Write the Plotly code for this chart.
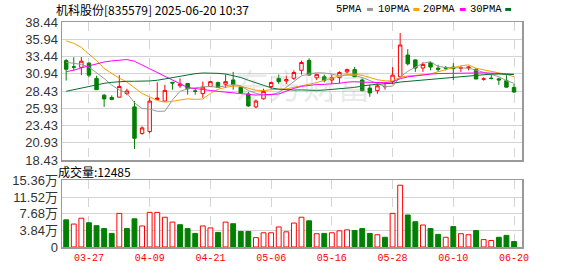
import plotly.graph_objects as go

dates = ["03-24","03-25","03-26","03-27","03-28","03-31","04-01","04-02","04-03","04-07",
         "04-08","04-09","04-10","04-11","04-14","04-15","04-16","04-17","04-18","04-21",
         "04-22","04-23","04-24","04-25","04-28","04-29","04-30","05-06","05-07","05-08",
         "05-09","05-12","05-13","05-14","05-15","05-16","05-19","05-20","05-21","05-22",
         "05-23","05-26","05-27","05-28","05-29","05-30","06-03","06-04","06-05","06-06",
         "06-09","06-10","06-11","06-12","06-13","06-16","06-17","06-18","06-19","06-20"]

opens = [32.85,31.95,31.87,32.48,30.27,27.83,27.50,27.55,28.06,26.14,
         22.29,22.57,27.22,26.98,29.70,29.20,29.52,28.45,28.06,29.10,
         29.66,29.43,30.04,29.00,28.02,26.14,27.31,29.10,30.27,29.90,
         30.27,31.44,32.85,30.35,30.50,30.04,30.37,31.21,31.54,30.04,
         28.86,28.49,29.05,29.80,30.50,33.65,32.95,31.77,32.52,31.75,
         31.85,31.90,31.75,31.80,31.59,30.15,30.30,30.20,29.94,28.96]
closes = [31.59,31.90,32.76,30.74,28.63,27.30,27.22,29.10,28.44,21.59,
          23.09,26.98,27.41,28.53,29.60,29.45,28.77,28.40,29.00,29.80,
          28.96,29.80,29.33,28.16,26.28,26.98,28.39,29.66,29.80,30.10,
          31.12,32.57,30.75,30.85,29.94,30.37,31.12,31.54,30.50,28.49,
          28.16,29.19,29.10,30.74,35.11,32.38,31.77,32.29,31.91,31.60,
          31.75,31.68,31.80,31.90,30.18,30.20,30.25,30.05,29.00,28.30]
highs = [33.09,33.33,33.37,32.60,30.65,28.02,27.80,30.74,28.77,26.99,
         23.32,27.45,29.71,29.33,29.75,30.27,29.55,28.86,29.80,29.90,
         29.80,30.83,31.21,29.10,28.30,27.22,28.77,29.80,30.83,30.65,
         31.44,32.85,33.18,30.95,30.83,30.83,31.30,31.68,31.91,30.27,
         29.33,29.57,29.57,31.91,36.84,34.50,33.00,32.62,32.70,32.25,
         32.05,32.48,32.05,32.05,31.77,30.41,30.83,30.37,30.74,29.47]
lows = [29.95,31.44,30.74,30.45,28.60,26.14,27.10,27.50,27.83,20.03,
        22.10,22.30,27.20,26.95,28.63,28.90,27.92,27.92,27.45,29.00,
        28.90,28.86,28.63,28.06,26.14,25.95,27.20,28.63,29.47,29.47,
        30.04,30.83,30.70,30.04,29.71,29.47,29.57,30.97,30.50,28.40,
        27.60,28.02,28.63,29.43,30.36,32.15,31.21,31.21,31.44,31.21,
        31.44,30.04,31.21,31.44,30.18,29.94,30.13,29.33,28.95,28.16]

ma5 = [32.60,32.50,32.30,31.90,31.12,30.26,29.30,28.60,28.15,26.72,
       25.90,25.82,25.50,25.52,27.14,28.40,28.75,28.95,29.04,29.08,
       28.99,29.19,29.38,29.21,28.51,28.11,27.83,27.89,28.22,28.99,
       29.81,30.65,30.87,31.08,31.05,30.90,30.61,30.76,30.69,30.40,
       29.96,29.58,29.09,29.14,30.46,31.30,31.82,32.46,32.69,31.99,
       31.86,31.85,31.75,31.75,31.46,31.15,30.87,30.52,29.94,29.56]
ma10 = [35.70,35.35,34.75,33.80,32.85,31.70,30.95,30.30,29.75,28.93,
        28.08,27.59,27.06,26.83,26.93,27.15,27.30,27.23,27.28,28.10,
        28.69,28.97,29.16,29.13,28.80,28.55,28.51,28.64,28.72,28.75,
        28.96,29.24,29.38,29.65,30.00,30.34,30.62,30.80,30.87,30.71,
        30.42,30.08,29.91,29.92,30.43,30.63,30.70,30.77,30.91,31.23,
        31.58,31.83,32.10,32.22,31.73,31.51,31.36,31.13,30.84,30.51]
ma20 = [31.25,31.45,31.80,32.10,32.40,32.65,32.80,32.95,33.00,32.75,
        32.20,31.75,31.20,30.60,30.00,29.50,28.95,28.80,28.70,28.52,
        28.39,28.28,28.11,27.98,27.86,27.85,27.90,27.93,28.00,28.42,
        28.83,29.11,29.28,29.38,29.40,29.45,29.56,29.72,29.80,29.73,
        29.69,29.66,29.65,29.78,30.22,30.49,30.66,30.79,30.89,30.97,
        31.00,30.96,31.00,31.07,31.08,31.07,31.03,30.95,30.88,30.87]
ma30 = [28.40,28.65,28.85,29.10,29.35,29.55,29.70,29.80,29.85,29.85,
        29.85,29.90,30.00,30.20,30.40,30.60,30.80,30.95,31.05,31.05,
        31.00,30.90,30.70,30.40,30.00,29.60,29.20,28.90,28.70,28.59,
        28.58,28.60,28.54,28.53,28.58,28.68,28.81,28.89,28.96,29.19,
        29.36,29.43,29.49,29.56,29.74,29.84,29.94,30.07,30.17,30.23,
        30.32,30.38,30.47,30.59,30.72,30.83,30.89,30.90,30.88,30.82]

vols = [6.26,5.29,6.64,5.59,4.92,4.25,3.13,7.75,4.25,6.49,
        4.85,7.98,7.98,6.86,5.74,5.14,4.25,3.13,4.85,4.40,
        3.36,5.74,5.37,3.58,3.58,2.16,3.28,3.28,4.62,3.50,
        5.52,6.86,6.04,3.06,3.13,3.28,3.73,3.95,3.80,4.25,
        3.13,2.83,2.24,7.75,14.24,7.38,5.82,5.07,4.25,2.91,
        2.24,4.70,3.06,2.83,3.80,1.71,1.49,2.24,2.68,1.2485]

price_ticks = [18.43, 20.93, 23.43, 25.93, 28.43, 30.94, 33.44, 35.94, 38.44]
price_labels = ["18.43", "20.93", "23.43", "25.93", "28.43", "30.94", "33.44", "35.94", "38.44"]
vol_ticks = [0, 3.84, 7.68, 11.52, 15.36]
vol_labels = ["0", "3.84万", "7.68万", "11.52万", "15.36万"]
date_ticks = ["03-27", "04-09", "04-21", "05-06", "05-16", "05-28", "06-10", "06-20"]
title_text = "机科股份[835579] 2025-06-20 10:37"
vol_title = "成交量:12485"

RED = "#ff0000"
GREEN = "#008000"
MA_COLORS = ["#999999", "#f5a000", "#ff00ff", "#006f2e"]
GRID = "#d4d4d4"
BORDER = "#999999"

# volume colour: up vs previous close
vol_up = []
for i in range(len(closes)):
    ref = closes[i - 1] if i > 0 else opens[i]
    vol_up.append(closes[i] >= ref)

fig = go.Figure()

for name, vals, col in [("5PMA", ma5, MA_COLORS[0]), ("10PMA", ma10, MA_COLORS[1]),
                        ("20PMA", ma20, MA_COLORS[2]), ("30PMA", ma30, MA_COLORS[3])]:
    fig.add_trace(go.Scatter(x=dates, y=vals, mode="lines", name=name,
                             line=dict(color=col, width=1), hoverinfo="skip",
                             xaxis="x", yaxis="y"))

fig.add_trace(go.Candlestick(
    x=dates, open=opens, high=highs, low=lows, close=closes,
    increasing=dict(line=dict(color=RED, width=1), fillcolor="#ffffff"),
    decreasing=dict(line=dict(color=GREEN, width=1), fillcolor=GREEN),
    whiskerwidth=0, hoverinfo="skip", xaxis="x", yaxis="y", name="K"))

fig.add_trace(go.Bar(
    x=dates, y=vols, width=0.64,
    marker=dict(color=["#ffffff" if u else GREEN for u in vol_up],
                line=dict(color=[RED if u else GREEN for u in vol_up], width=1)),
    hoverinfo="skip", xaxis="x2", yaxis="y2", name="vol"))

L, R, T, B = 56, 56, 22, 21
W, H = 578, 276
PW, PH = W - L - R, H - T - B
price_bottom = (255 - 165) / PH
vol_top = (255 - 186) / PH

axis_common = dict(showline=True, mirror=True, linecolor=BORDER, linewidth=1.5,
                   zeroline=False, fixedrange=True)

def px_x(px):
    return (px - L) / PW

def px_y(py):
    return (H - B - py) / PH

annotations = [
    dict(text=title_text, x=px_x(48), y=px_y(9.5), xref="paper", yref="paper",
         xanchor="left", yanchor="middle", showarrow=False,
         font=dict(family="Noto Sans CJK SC", size=12, color="#000")),
    dict(text=vol_title, x=px_x(50), y=px_y(176.7), xref="paper", yref="paper",
         xanchor="left", yanchor="middle", showarrow=False,
         font=dict(family="Noto Sans CJK SC", size=12, color="#000")),
    dict(text="东方财富", x=px_x(300), y=px_y(87), xref="paper", yref="paper",
         xanchor="center", yanchor="middle", showarrow=False,
         font=dict(family="Noto Sans CJK SC", size=34, color="rgba(160,160,160,0.22)")),
]
shapes = []
legend_items = [("5PMA", 338, 365), ("10PMA", 380, 412), ("20PMA", 426, 459), ("30PMA", 473, 505)]
for (lab, tx, dx), col in zip(legend_items, MA_COLORS):
    annotations.append(dict(text=lab, x=px_x(tx - 6), y=px_y(8.5), xref="paper", yref="paper",
                            xanchor="left", yanchor="middle", showarrow=False,
                            font=dict(family="Liberation Mono", size=10.5, color="#000")))
    shapes.append(dict(type="line", xref="paper", yref="paper",
                       x0=px_x(dx), x1=px_x(dx + 6), y0=px_y(9), y1=px_y(9),
                       line=dict(color=col, width=3)))

fig.update_layout(
    width=W, height=H, margin=dict(l=L, r=R, t=T, b=B),
    paper_bgcolor="#ffffff", plot_bgcolor="#ffffff",
    showlegend=False, boxgap=0.35, bargap=0.3,
    xaxis=dict(type="category", domain=[0, 1], anchor="y", range=[-0.55, 60.05],
               tickvals=date_ticks, showticklabels=False, showgrid=True,
               gridcolor=GRID, griddash="dash", gridwidth=1, ticks="",
               rangeslider=dict(visible=False), **axis_common),
    xaxis2=dict(type="category", domain=[0, 1], anchor="y2", matches="x",
                range=[-0.55, 60.05], tickvals=date_ticks, ticktext=date_ticks,
                showgrid=True, gridcolor=GRID, griddash="dash", gridwidth=1, ticks="",
                tickfont=dict(family="Liberation Mono", size=10, color=RED),
                **axis_common),
    yaxis=dict(domain=[price_bottom, 1], anchor="x", range=[18.43, 38.44],
               tickvals=price_ticks, ticktext=price_labels, showgrid=True,
               gridcolor=GRID, gridwidth=1, ticks="",
               tickfont=dict(family="Liberation Sans", size=13, color="#333"),
               **axis_common),
    yaxis2=dict(domain=[0, vol_top], anchor="x2", range=[0, 15.36],
                tickvals=vol_ticks, ticktext=vol_labels, showgrid=True,
                gridcolor=GRID, gridwidth=1, ticks="",
                tickfont=dict(family="Liberation Sans, Noto Sans CJK SC", size=13, color="#333"),
                **axis_common),
    annotations=annotations, shapes=shapes,
)

fig.write_html("out.html", config={"displayModeBar": False, "staticPlot": True})
